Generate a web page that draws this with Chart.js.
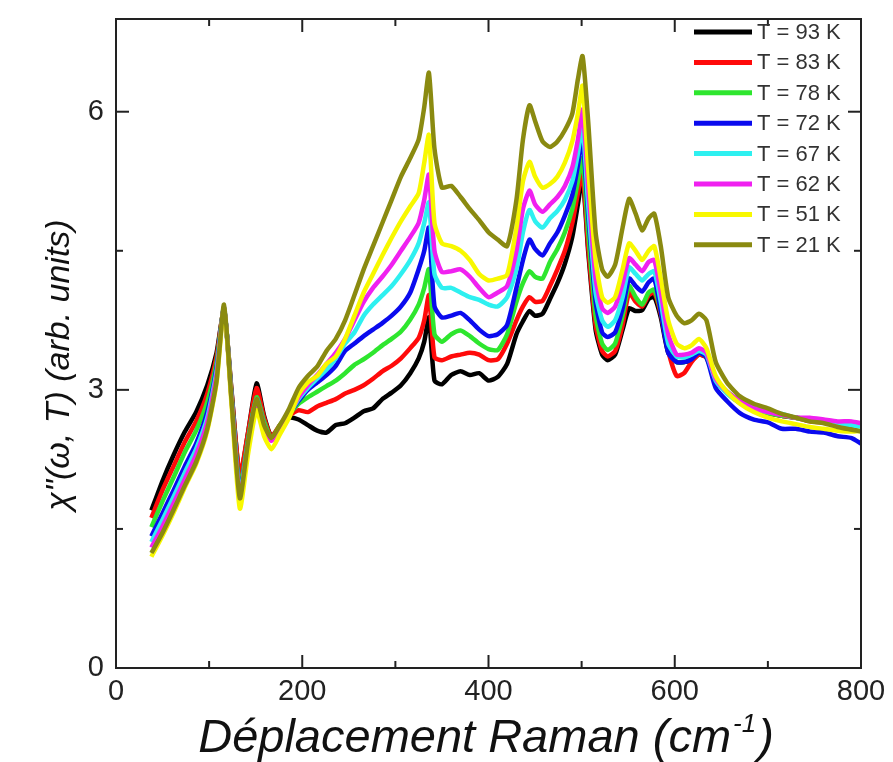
<!DOCTYPE html>
<html>
<head>
<meta charset="utf-8">
<script src="https://cdn.jsdelivr.net/npm/chart.js@4.4.1/dist/chart.umd.min.js"></script>
<style>
  html, body { margin: 0; padding: 0; background: #fff; }
  #wrap { width: 893px; height: 762px; }
</style>
</head>
<body>
<div id="wrap"><canvas id="raman" width="893" height="762"></canvas></div>
<script>
// Raman shift (cm-1)
const shifts = [38, 50, 62, 74, 86, 98, 108, 116, 124, 133, 142, 151, 159, 167, 176, 186, 196, 206, 216, 226,
  236, 246, 256, 266, 276, 286, 296, 306, 316, 325, 331, 336, 342, 350, 360, 370, 380, 390, 400, 410,
  420, 430, 437, 444, 450, 458, 466, 474, 482, 490, 496, 501, 507, 515, 522, 528, 536, 544, 551, 558,
  565, 572, 578, 585, 593, 602, 610, 618, 626, 634, 644, 656, 670, 685, 700, 715, 730, 745, 760, 775,
  790, 800];

// chi''(w, T) per temperature
const t93 = [1.70, 2.02, 2.30, 2.55, 2.76, 3.05, 3.40, 3.86, 3.00, 2.05, 2.55, 3.07, 2.72, 2.50, 2.60, 2.70, 2.68, 2.62, 2.56, 2.54,
  2.62, 2.64, 2.70, 2.77, 2.80, 2.90, 2.97, 3.05, 3.18, 3.34, 3.52, 3.78, 3.10, 3.06, 3.16, 3.20, 3.16, 3.18, 3.10, 3.14,
  3.28, 3.60, 3.74, 3.85, 3.80, 3.82, 3.98, 4.15, 4.36, 4.65, 5.00, 5.30, 4.50, 3.65, 3.38, 3.32, 3.38, 3.65, 3.88, 3.85,
  3.86, 3.98, 4.00, 3.78, 3.40, 3.30, 3.30, 3.32, 3.38, 3.35, 3.12, 2.98, 2.87, 2.80, 2.75, 2.72, 2.70, 2.68, 2.66, 2.64,
  2.62, 2.60];
const t83 = [1.62, 1.92, 2.18, 2.44, 2.66, 2.96, 3.36, 3.87, 2.98, 2.08, 2.55, 3.02, 2.70, 2.50, 2.62, 2.72, 2.78, 2.76, 2.82, 2.86,
  2.90, 2.96, 3.00, 3.05, 3.12, 3.20, 3.26, 3.34, 3.45, 3.56, 3.75, 4.02, 3.35, 3.32, 3.36, 3.38, 3.40, 3.38, 3.32, 3.33,
  3.50, 3.75, 3.90, 4.00, 3.95, 3.96, 4.12, 4.30, 4.50, 4.80, 5.12, 5.35, 4.55, 3.70, 3.42, 3.36, 3.42, 3.70, 4.05, 3.95,
  3.90, 4.02, 4.05, 3.82, 3.42, 3.15, 3.18, 3.30, 3.38, 3.35, 3.10, 2.97, 2.86, 2.80, 2.76, 2.72, 2.70, 2.66, 2.65, 2.62,
  2.60, 2.58];
const t78 = [1.52, 1.80, 2.06, 2.33, 2.56, 2.87, 3.30, 3.88, 2.95, 1.95, 2.48, 2.92, 2.66, 2.48, 2.62, 2.74, 2.85, 2.92, 2.98, 3.04,
  3.10, 3.18, 3.27, 3.33, 3.40, 3.48, 3.55, 3.63, 3.76, 3.92, 4.10, 4.30, 3.60, 3.52, 3.60, 3.64, 3.58, 3.50, 3.44, 3.43,
  3.60, 3.95, 4.15, 4.28, 4.22, 4.20, 4.38, 4.52, 4.70, 4.95, 5.25, 5.50, 4.70, 3.80, 3.50, 3.43, 3.50, 3.80, 4.12, 4.00,
  3.92, 4.05, 4.08, 3.85, 3.45, 3.30, 3.30, 3.35, 3.40, 3.36, 3.10, 2.97, 2.86, 2.80, 2.75, 2.72, 2.70, 2.67, 2.66, 2.64,
  2.62, 2.60];
const t72 = [1.42, 1.67, 1.92, 2.18, 2.42, 2.76, 3.24, 3.88, 2.93, 1.90, 2.45, 2.90, 2.62, 2.46, 2.60, 2.74, 2.88, 3.00, 3.08, 3.16,
  3.26, 3.42, 3.50, 3.58, 3.65, 3.72, 3.80, 3.90, 4.05, 4.30, 4.50, 4.75, 3.90, 3.78, 3.80, 3.83, 3.75, 3.65, 3.58, 3.60,
  3.70, 4.10, 4.40, 4.62, 4.52, 4.45, 4.58, 4.70, 4.88, 5.10, 5.42, 5.72, 4.90, 3.95, 3.62, 3.57, 3.62, 3.88, 4.20, 4.12,
  4.06, 4.16, 4.20, 3.85, 3.40, 3.30, 3.30, 3.33, 3.40, 3.35, 3.02, 2.88, 2.75, 2.68, 2.65, 2.58, 2.58, 2.55, 2.54, 2.50,
  2.48, 2.42];
const t67 = [1.36, 1.60, 1.85, 2.11, 2.36, 2.70, 3.20, 3.89, 2.92, 1.88, 2.45, 2.90, 2.62, 2.46, 2.60, 2.74, 2.90, 3.02, 3.12, 3.22,
  3.34, 3.50, 3.62, 3.80, 3.92, 4.02, 4.12, 4.25, 4.40, 4.58, 4.80, 5.02, 4.25, 4.10, 4.10, 4.05, 4.00, 3.97, 3.92, 3.90,
  4.00, 4.30, 4.70, 4.94, 4.82, 4.75, 4.85, 4.93, 5.05, 5.25, 5.55, 5.85, 5.00, 4.05, 3.75, 3.68, 3.75, 4.00, 4.32, 4.25,
  4.18, 4.25, 4.28, 3.95, 3.50, 3.36, 3.35, 3.38, 3.42, 3.38, 3.10, 2.96, 2.86, 2.80, 2.76, 2.74, 2.70, 2.68, 2.65, 2.63,
  2.62, 2.60];
const t62 = [1.30, 1.53, 1.78, 2.04, 2.30, 2.65, 3.16, 3.89, 2.90, 1.85, 2.42, 2.88, 2.60, 2.45, 2.60, 2.74, 2.92, 3.05, 3.16, 3.28,
  3.40, 3.55, 3.75, 3.95, 4.10, 4.22, 4.35, 4.50, 4.65, 4.80, 5.05, 5.32, 4.50, 4.27, 4.28, 4.30, 4.22, 4.10, 4.00, 4.05,
  4.12, 4.50, 4.95, 5.15, 5.00, 4.92, 5.00, 5.08, 5.20, 5.40, 5.70, 6.02, 5.20, 4.20, 3.88, 3.83, 3.90, 4.15, 4.42, 4.35,
  4.28, 4.38, 4.40, 4.05, 3.60, 3.38, 3.38, 3.40, 3.45, 3.40, 3.12, 2.98, 2.88, 2.80, 2.76, 2.73, 2.70, 2.70, 2.68, 2.66,
  2.66, 2.64];
const t51 = [1.20, 1.43, 1.68, 1.95, 2.20, 2.56, 3.08, 3.88, 2.85, 1.72, 2.32, 2.78, 2.50, 2.36, 2.52, 2.70, 2.95, 3.08, 3.15, 3.28,
  3.36, 3.55, 3.80, 4.05, 4.25, 4.45, 4.64, 4.82, 4.98, 5.12, 5.45, 5.75, 4.80, 4.58, 4.55, 4.50, 4.40, 4.25, 4.18, 4.20,
  4.24, 4.75, 5.25, 5.46, 5.30, 5.18, 5.22, 5.30, 5.45, 5.68, 5.98, 6.28, 5.40, 4.40, 4.00, 3.94, 4.00, 4.30, 4.58, 4.50,
  4.40, 4.50, 4.55, 4.20, 3.75, 3.50, 3.45, 3.48, 3.55, 3.45, 3.15, 2.98, 2.85, 2.76, 2.70, 2.66, 2.63, 2.60, 2.58, 2.56,
  2.55, 2.56];
const t21 = [1.24, 1.46, 1.71, 1.97, 2.22, 2.58, 3.10, 3.92, 2.90, 1.83, 2.45, 2.90, 2.62, 2.48, 2.62, 2.80, 3.02, 3.15, 3.25, 3.42,
  3.55, 3.75, 4.02, 4.30, 4.55, 4.80, 5.05, 5.30, 5.50, 5.70, 6.05, 6.42, 5.60, 5.18, 5.20, 5.08, 4.95, 4.83, 4.70, 4.62,
  4.55, 5.05, 5.70, 6.07, 5.90, 5.68, 5.62, 5.68, 5.80, 5.98, 6.35, 6.60, 5.90, 4.70, 4.30, 4.22, 4.35, 4.75, 5.06, 4.90,
  4.72, 4.85, 4.90, 4.55, 4.00, 3.80, 3.72, 3.75, 3.82, 3.75, 3.30, 3.08, 2.93, 2.85, 2.80, 2.74, 2.70, 2.66, 2.64, 2.60,
  2.57, 2.55];

const series = [t93, t83, t78, t72, t67, t62, t51, t21];
const labels = ['T = 93 K', 'T = 83 K', 'T = 78 K', 'T = 72 K', 'T = 67 K', 'T = 62 K', 'T = 51 K', 'T = 21 K'];
const colors = ['#000000', '#ff0a0a', '#2ee62e', '#0a0aee', '#2ef0f0', '#f020f0', '#f8f800', '#8a8a10'];

const xTicks = [0, 200, 400, 600, 800];
const xMinor = [100, 300, 500, 700];
const yTicks = [0, 3, 6];
const yMinor = [1.5, 4.5];

const FONT = "'Liberation Sans', Arial, sans-serif";
const INK = '#222';

// frame, inward ticks, axis titles and legend
const decor = {
  id: 'decor',
  afterDraw(chart) {
    const { ctx, chartArea: a, scales: { x, y } } = chart;
    ctx.save();
    ctx.strokeStyle = INK;
    ctx.lineWidth = 2;
    ctx.strokeRect(a.left, a.top, a.right - a.left, a.bottom - a.top);

    const seg = (x1, y1, x2, y2) => {
      ctx.beginPath(); ctx.moveTo(x1, y1); ctx.lineTo(x2, y2); ctx.stroke();
    };
    const xt = (v, len) => {
      const p = x.getPixelForValue(v);
      seg(p, a.bottom, p, a.bottom - len);
      seg(p, a.top, p, a.top + len);
    };
    const yt = (v, len) => {
      const p = y.getPixelForValue(v);
      seg(a.left, p, a.left + len, p);
      seg(a.right, p, a.right - len, p);
    };
    xTicks.forEach(v => xt(v, 13));
    xMinor.forEach(v => xt(v, 7));
    yTicks.forEach(v => yt(v, 13));
    yMinor.forEach(v => yt(v, 7));

    // y title
    ctx.fillStyle = '#111';
    ctx.save();
    ctx.translate(60, 365);
    ctx.rotate(-Math.PI / 2);
    ctx.font = 'italic 34px ' + FONT;
    ctx.textAlign = 'center';
    ctx.textBaseline = 'middle';
    ctx.fillText('\u03C7"(\u03C9, T) (arb. units)', 0, 0);
    ctx.restore();

    // x title with superscript
    const main = 'D\u00E9placement Raman (cm';
    const sup = '-1';
    const tail = ')';
    ctx.textBaseline = 'alphabetic';
    ctx.textAlign = 'left';
    ctx.font = 'italic 47px ' + FONT;
    const wMain = ctx.measureText(main).width;
    const wTail = ctx.measureText(tail).width;
    ctx.font = 'italic 26px ' + FONT;
    const wSup = ctx.measureText(sup).width;
    let sx = 486 - (wMain + wSup + wTail + 4) / 2;
    const base = 752;
    ctx.font = 'italic 47px ' + FONT;
    ctx.fillText(main, sx, base);
    sx += wMain + 2;
    ctx.font = 'italic 26px ' + FONT;
    ctx.fillText(sup, sx, base - 20);
    sx += wSup + 2;
    ctx.font = 'italic 47px ' + FONT;
    ctx.fillText(tail, sx, base);

    // legend
    ctx.font = '22px ' + FONT;
    ctx.textBaseline = 'middle';
    ctx.lineWidth = 5;
    labels.forEach((lab, i) => {
      const ly = 32 + i * 30.4;
      ctx.strokeStyle = colors[i];
      seg(694, ly, 752, ly);
      ctx.fillStyle = '#333';
      ctx.fillText(lab, 757, ly + 1);
    });
    ctx.restore();
  }
};

const datasets = series.map((vals, i) => ({
  label: labels[i],
  data: shifts.map((s, k) => ({ x: s, y: vals[k] })),
  borderColor: colors[i],
  backgroundColor: colors[i],
  borderWidth: 4.5,
  pointRadius: 0,
  tension: 0.2,
  fill: false,
  order: series.length - 1 - i
}));

new Chart(document.getElementById('raman'), {
  type: 'line',
  data: { datasets },
  options: {
    responsive: false,
    animation: false,
    devicePixelRatio: 1,
    layout: { padding: { top: 19, right: 32, left: 0, bottom: 0 } },
    plugins: { legend: { display: false }, tooltip: { enabled: false } },
    scales: {
      x: {
        type: 'linear',
        min: 0,
        max: 800,
        afterBuildTicks: s => { s.ticks = xTicks.map(v => ({ value: v })); },
        afterFit: s => { s.height = 94; s.paddingLeft = 0; s.paddingRight = 0; },
        grid: { display: false, drawTicks: false },
        border: { display: false },
        ticks: { font: { family: FONT, size: 29 }, color: INK, padding: 7, maxRotation: 0 }
      },
      y: {
        type: 'linear',
        min: 0,
        max: 7,
        afterBuildTicks: s => { s.ticks = yTicks.map(v => ({ value: v })); },
        afterFit: s => { s.width = 116; s.paddingTop = 0; s.paddingBottom = 0; },
        grid: { display: false, drawTicks: false },
        border: { display: false },
        ticks: { font: { family: FONT, size: 29 }, color: INK, padding: 12 }
      }
    }
  },
  plugins: [decor]
});
</script>
</body>
</html>
